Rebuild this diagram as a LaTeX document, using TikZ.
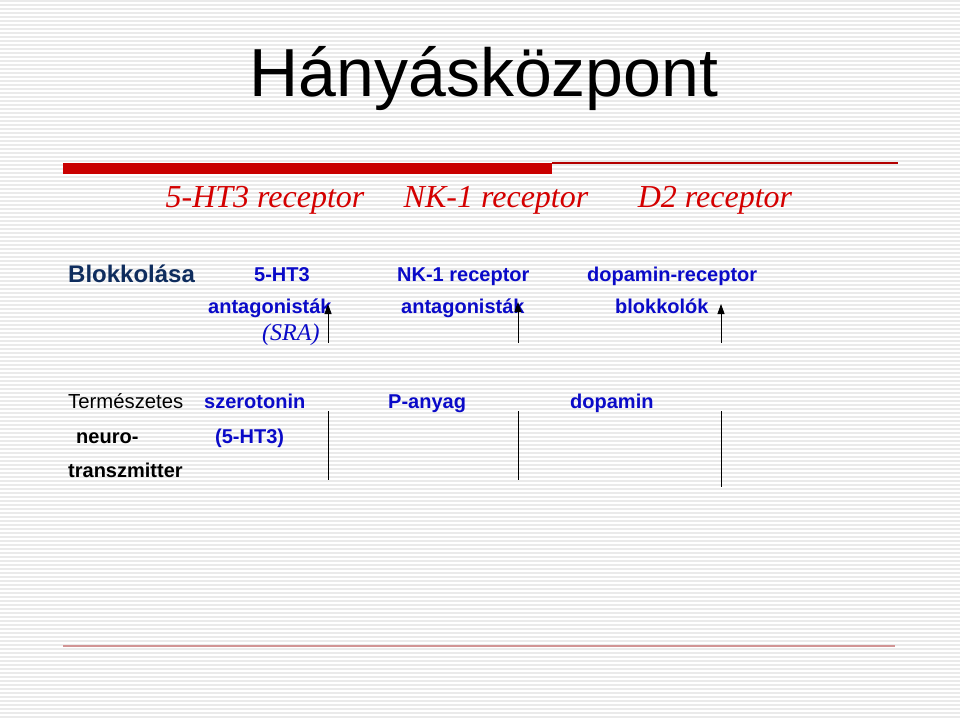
\documentclass[tikz,border=0pt]{standalone}
\usepackage{fontspec}
\setmainfont{Liberation Sans}
\newfontfamily\recfont{Liberation Serif}
\usetikzlibrary{arrows.meta}
\tikzset{>={Triangle[length=10pt, width=7pt]}}
\definecolor{recred}{RGB}{212,0,0}
\definecolor{drugblue}{RGB}{10,10,200}
\definecolor{navy}{RGB}{15,45,94}
\definecolor{stripe}{RGB}{234,234,234}
\tikzset{
  every node/.style={inner sep=0pt},
  rectext/.style={anchor=base, text=recred, font=\recfont\itshape\fontsize{32}{34}\selectfont},
  drugtext/.style={anchor=base west, text=drugblue, font=\bfseries\fontsize{20}{22}\selectfont},
  nttext/.style={anchor=base west, font=\fontsize{20.3}{22}\selectfont},
}

\begin{document}
\begin{tikzpicture}[x=1pt, y=-1pt]
        \useasboundingbox (0, 0) rectangle (960, 717);
        % background
        \fill[white] (0, 0) rectangle (960, 717);
        \foreach \y in {1,5,...,717}
          \draw[stripe, line width=1.6pt] (0, \y) -- (960, \y);
        % title and rules
        \node[anchor=base, font=\fontsize{68}{72}\selectfont] (title) at (484, 96) {Hányásközpont};
        \fill[recred!95!black] (63, 162.5) rectangle (552, 174);
        \draw[recred!85!black, line width=1.2pt] (552, 163) -- (898, 163);
        \draw[red!40!gray!60, line width=1.2pt] (63, 646) -- (895, 646);
        % receptors
        \node[rectext] (r1) at (265, 207) {5-HT3 receptor};
        \node[rectext] (r2) at (496, 207) {NK-1 receptor};
        \node[rectext] (r3) at (715, 207) {D2 receptor};
        % blockers
        \node[anchor=base west, text=navy, font=\bfseries\fontsize{24}{26}\selectfont] (blokk) at (68, 282) {Blokkolása};
        \node[drugtext] (b1) at (254, 281) {5-HT3};
        \node[drugtext] (b1a) at (208, 313) {antagonisták};
        \node[anchor=base west, text=drugblue, font=\recfont\itshape\fontsize{24}{26}\selectfont] (sra) at (262, 340) {(SRA)};
        \node[drugtext] (b2) at (397, 281) {NK-1 receptor};
        \node[drugtext] (b2a) at (401, 313) {antagonisták};
        \node[drugtext] (b3) at (587, 281) {dopamin-receptor};
        \node[drugtext] (b3a) at (615, 313) {blokkolók};
        % natural transmitters
        \node[nttext] (nt1) at (68, 408) {Természetes};
        \node[nttext, font=\bfseries\fontsize{20}{22}\selectfont] (nt2) at (76, 443) {neuro-};
        \node[nttext, font=\bfseries\fontsize{20}{22}\selectfont] (nt3) at (68, 477) {transzmitter};
        \node[drugtext] (n1) at (204, 408) {szerotonin};
        \node[drugtext] (n1a) at (215, 443) {(5-HT3)};
        \node[drugtext] (n2) at (388, 408) {P-anyag};
        \node[drugtext] (n3) at (570, 408) {dopamin};
        % arrows
        \coordinate (a1) at (328, 343); \coordinate (h1) at (328, 304);
        \coordinate (a2) at (518, 343); \coordinate (h2) at (518, 302);
        \coordinate (a3) at (721, 343); \coordinate (h3) at (721, 304);
        \foreach \i in {1,2,3}
          \draw[->, line width=.8pt] (a\i) -- (h\i);
        % lines
        \coordinate (l1) at (328, 411); \coordinate (m1) at (328, 480);
        \coordinate (l2) at (518, 411); \coordinate (m2) at (518, 480);
        \coordinate (l3) at (721, 411); \coordinate (m3) at (721, 487);
        \foreach \i in {1,2,3}
          \draw[line width=.8pt] (l\i) -- (m\i);
      \end{tikzpicture}
\end{document}
